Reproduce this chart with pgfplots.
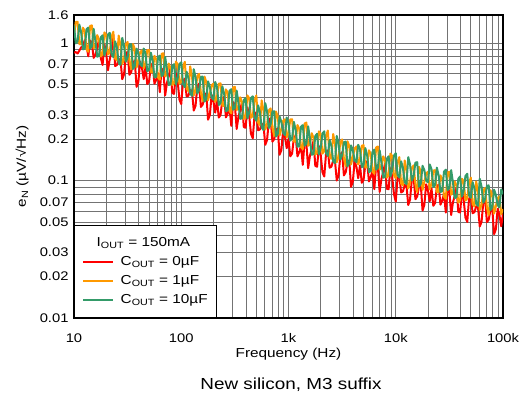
\documentclass[border=0pt]{standalone}
\usepackage{fontspec}
\setmainfont{Liberation Sans}[FakeStretch=1.18]
\usepackage{pgfplots}
\usepackage{pgfplotstable}
\pgfplotsset{compat=1.18}

\definecolor{tired}{RGB}{255,0,0}
\definecolor{tiorange}{RGB}{255,153,0}
\definecolor{tigreen}{RGB}{52,155,105}

\newcommand\ticksize{\fontsize{12.5bp}{15bp}\selectfont}
\newcommand\labelsize{\fontsize{13bp}{15bp}\selectfont}
\newcommand\capsize{\fontsize{16bp}{19bp}\selectfont}

% f = frequency (Hz), r/o/g = e_N for C_OUT = 0, 1, 10 uF
\pgfplotstableread{
f r o g
10 0.850 1.140 1.344
10.39 0.860 1.422 0.995
10.80 0.840 1.427 1.030
11.22 0.880 0.982 1.363
11.66 0.930 0.980 1.197
12.12 0.950 1.294 0.900
12.59 1.050 1.221 0.910
13.08 0.964 0.898 1.259
13.59 0.800 0.864 1.296
14.13 1.044 1.331 0.916
14.68 0.998 1.344 0.945
15.25 0.780 0.915 1.269
15.85 0.824 0.948 1.030
16.47 0.918 1.142 0.796
17.11 1.061 1.061 0.808
17.78 0.780 0.800 1.100
18.48 0.693 0.832 1.139
19.20 0.980 1.196 0.813
19.95 0.854 1.145 0.902
20.73 0.634 0.826 1.152
21.54 0.760 0.855 1.188
22.39 0.865 1.109 0.827
23.26 1.150 1.209 0.791
24.17 0.681 0.773 1.030
25.12 0.692 0.746 0.928
26.10 0.765 1.134 0.720
27.12 0.757 0.961 0.694
28.18 0.546 0.704 1.091
29.29 0.592 0.766 0.957
30.43 0.826 0.980 0.731
31.62 0.867 1.020 0.782
32.86 0.588 0.739 0.974
34.15 0.614 0.647 0.979
35.48 0.722 0.984 0.648
36.87 0.745 0.907 0.680
38.31 0.480 0.664 0.912
39.81 0.521 0.751 0.837
41.37 0.733 0.858 0.702
42.99 0.662 0.886 0.678
44.67 0.547 0.654 0.912
46.42 0.675 0.713 0.840
48.23 0.503 0.888 0.622
50.12 0.526 0.891 0.642
52.08 0.685 0.613 0.851
54.12 0.712 0.612 0.748
56.23 0.506 0.808 0.562
58.43 0.541 0.763 0.569
60.72 0.603 0.562 0.788
63.10 0.439 0.541 0.811
65.57 0.654 0.834 0.574
68.13 0.626 0.844 0.593
70.80 0.416 0.572 0.793
73.56 0.514 0.591 0.642
76.44 0.571 0.710 0.495
79.43 0.657 0.657 0.501
82.54 0.433 0.494 0.680
85.77 0.427 0.512 0.702
89.13 0.602 0.734 0.500
92.61 0.524 0.702 0.553
96.24 0.387 0.505 0.704
100 0.360 0.522 0.725
103.9 0.525 0.674 0.502
108.0 0.551 0.731 0.478
112.2 0.409 0.465 0.619
116.6 0.414 0.447 0.556
121.2 0.456 0.677 0.430
125.9 0.450 0.571 0.413
130.8 0.323 0.417 0.646
135.9 0.349 0.451 0.564
141.3 0.485 0.576 0.429
146.8 0.508 0.598 0.458
152.5 0.343 0.431 0.568
158.5 0.357 0.377 0.570
164.7 0.418 0.570 0.375
171.1 0.431 0.524 0.393
177.8 0.277 0.383 0.526
184.8 0.300 0.431 0.481
192.0 0.420 0.492 0.402
199.5 0.378 0.506 0.387
207.3 0.312 0.373 0.521
215.4 0.385 0.407 0.479
223.9 0.287 0.506 0.354
232.6 0.300 0.509 0.367
241.7 0.390 0.349 0.485
251.2 0.406 0.349 0.426
261.0 0.288 0.460 0.320
271.2 0.308 0.435 0.324
281.8 0.343 0.320 0.449
292.9 0.250 0.308 0.462
304.3 0.372 0.475 0.327
316.2 0.356 0.480 0.338
328.6 0.237 0.326 0.451
341.5 0.292 0.336 0.365
354.8 0.324 0.403 0.281
368.7 0.373 0.373 0.284
383.1 0.245 0.280 0.385
398.1 0.242 0.291 0.398
413.7 0.341 0.416 0.283
429.9 0.297 0.398 0.313
446.7 0.219 0.286 0.398
464.2 0.203 0.295 0.410
482.3 0.298 0.382 0.285
501.2 0.314 0.416 0.272
520.8 0.232 0.264 0.352
541.2 0.235 0.253 0.315
562.3 0.258 0.383 0.243
584.3 0.254 0.323 0.233
607.2 0.182 0.235 0.365
631.0 0.197 0.254 0.318
655.7 0.273 0.324 0.241
681.3 0.285 0.335 0.257
708.0 0.192 0.241 0.318
735.6 0.200 0.211 0.319
764.4 0.233 0.318 0.209
794.3 0.240 0.292 0.219
825.4 0.154 0.212 0.292
857.7 0.166 0.239 0.267
891.3 0.232 0.272 0.222
926.1 0.209 0.279 0.214
962.4 0.172 0.206 0.287
1000 0.201 0.223 0.263
1039 0.150 0.278 0.195
1080 0.157 0.279 0.202
1122 0.204 0.192 0.267
1166 0.212 0.192 0.234
1212 0.150 0.253 0.176
1259 0.161 0.239 0.178
1308 0.179 0.175 0.246
1359 0.130 0.169 0.253
1413 0.194 0.260 0.179
1468 0.186 0.264 0.185
1525 0.123 0.179 0.248
1585 0.152 0.184 0.200
1647 0.168 0.221 0.154
1711 0.195 0.205 0.156
1778 0.128 0.154 0.211
1848 0.126 0.160 0.219
1920 0.178 0.228 0.155
1995 0.155 0.218 0.172
2073 0.115 0.157 0.220
2154 0.107 0.164 0.228
2239 0.157 0.212 0.158
2326 0.166 0.231 0.151
2417 0.124 0.148 0.197
2512 0.126 0.144 0.179
2610 0.140 0.218 0.138
2712 0.139 0.186 0.134
2818 0.100 0.136 0.211
2929 0.109 0.149 0.186
3043 0.152 0.190 0.142
3162 0.161 0.199 0.153
3286 0.109 0.144 0.190
3415 0.115 0.127 0.192
3548 0.135 0.193 0.127
3687 0.140 0.179 0.134
3831 0.090 0.131 0.180
3981 0.0984 0.149 0.166
4137 0.138 0.171 0.140
4299 0.126 0.177 0.136
4467 0.104 0.131 0.182
4642 0.129 0.143 0.169
4823 0.0963 0.179 0.125
5012 0.101 0.181 0.130
5208 0.132 0.124 0.172
5412 0.138 0.125 0.152
5623 0.0985 0.166 0.115
5843 0.106 0.157 0.117
6072 0.118 0.116 0.162
6310 0.0865 0.112 0.168
6557 0.129 0.174 0.120
6813 0.125 0.177 0.124
7080 0.0827 0.120 0.166
7356 0.103 0.124 0.135
7644 0.115 0.150 0.105
7943 0.133 0.140 0.106
8254 0.0871 0.105 0.144
8577 0.0865 0.109 0.150
8913 0.123 0.157 0.107
9261 0.107 0.151 0.119
9624 0.0796 0.109 0.152
10000 0.0703 0.104 0.158
10390 0.1035 0.136 0.110
10800 0.109 0.148 0.105
11220 0.0819 0.0951 0.138
11660 0.0834 0.092 0.124
12120 0.0926 0.140 0.0968
12590 0.0918 0.119 0.094
13080 0.0664 0.0876 0.148
13590 0.0728 0.0963 0.131
14130 0.102 0.124 0.100
14680 0.107 0.129 0.108
15250 0.0731 0.0939 0.135
15850 0.0766 0.0825 0.136
16470 0.0903 0.126 0.0901
17110 0.0936 0.116 0.095
17780 0.0605 0.0855 0.128
18480 0.0665 0.0979 0.119
19200 0.0939 0.112 0.0999
19950 0.0851 0.116 0.097
20730 0.0706 0.0862 0.131
21540 0.0875 0.0944 0.121
22390 0.0655 0.118 0.0899
23260 0.0687 0.119 0.093
24170 0.0898 0.0821 0.124
25120 0.0936 0.0823 0.109
26100 0.0667 0.109 0.0824
27120 0.0716 0.103 0.084
28180 0.080 0.0762 0.116
29290 0.0585 0.0736 0.120
30430 0.0874 0.114 0.0852
31620 0.084 0.116 0.0885
32860 0.0561 0.0789 0.119
34150 0.0695 0.0817 0.0965
35480 0.0774 0.0985 0.0746
36870 0.0895 0.0915 0.0758
38310 0.0591 0.069 0.103
39810 0.0586 0.0719 0.107
41370 0.0829 0.103 0.0764
42990 0.0723 0.0991 0.0849
44670 0.0537 0.0715 0.108
46420 0.050 0.0742 0.112
48230 0.0735 0.0964 0.0781
50120 0.0776 0.105 0.0748
52080 0.0579 0.0672 0.0974
54120 0.0588 0.0648 0.0876
56230 0.0649 0.0984 0.0679
58430 0.0642 0.0834 0.0654
60720 0.0463 0.061 0.103
63100 0.0501 0.0663 0.0901
65570 0.070 0.085 0.0689
68130 0.0734 0.0883 0.0736
70800 0.0498 0.064 0.0916
73560 0.052 0.056 0.0922
76440 0.0611 0.0851 0.0609
79430 0.0631 0.0785 0.064
82540 0.0407 0.0575 0.0858
85770 0.0442 0.065 0.0789
89130 0.0622 0.0744 0.0662
92610 0.0563 0.0769 0.064
96240 0.0465 0.0568 0.0862
100000 0.0575 0.062 0.0795
}\noise

\begin{document}
\begin{tikzpicture}
\begin{axis}[
    at={(0,0)}, anchor=south west,
    scale only axis, width=429bp, height=303bp,
    xmode=log, ymode=log,
    xmin=10, xmax=100000, ymin=0.01, ymax=1.6,
    xtick={10,100,1000,10000,100000},
    xticklabels={10,100,1k,10k,100k},
    minor xtick={20,30,40,50,60,70,80,90,200,300,400,500,600,700,800,900,
        2000,3000,4000,5000,6000,7000,8000,9000,
        20000,30000,40000,50000,60000,70000,80000,90000},
    ytick={0.01,0.02,0.03,0.05,0.07,0.1,0.2,0.3,0.5,0.7,1,1.6},
    yticklabels={0.01,0.02,0.03,0.05,0.07,0.1,0.2,0.3,0.5,0.7,1,1.6},
    minor ytick={0.04,0.06,0.08,0.09,0.4,0.6,0.8,0.9},
    grid=both,
    major grid style={black!55, line width=0.6bp},
    minor grid style={black!55, line width=0.6bp},
    major tick length=0pt, minor tick length=0pt,
    axis line style={line width=1.4bp},
    tick label style={font=\ticksize},
    xticklabel style={yshift=-12bp},
    yticklabel style={xshift=-2bp},
    xlabel={Frequency (Hz)},
    ylabel={e\textsubscript{N} (µV/√Hz)},
    every axis x label/.style={at={(axis description cs:0.5,-0.119)}, anchor=center, font=\labelsize},
    every axis y label/.style={at={(axis description cs:-0.121,0.5)}, rotate=90, anchor=center, font=\labelsize},
    legend style={at={(0,0)}, anchor=south west, draw=black, line width=1.4bp,
        fill=white, inner xsep=7.5bp, inner ysep=8bp, font=\labelsize,
        row sep=0pt, column sep=5bp,
        nodes={inner sep=1.5bp, minimum height=19bp}},
    legend cell align=left,
    legend image code/.code={\draw[#1, line width=2bp] (0bp,0bp) -- (30bp,0bp);},
]
\addlegendimage{empty legend}
\addlegendentry{\hspace*{-24bp}I\textsubscript{OUT} = 150mA}

\addplot[tired, line width=2bp, line join=round] table[x=f, y=r] {\noise};
\addlegendentry{C\textsubscript{OUT} = 0µF}

\addplot[tiorange, line width=2bp, line join=round] table[x=f, y=o] {\noise};
\addlegendentry{C\textsubscript{OUT} = 1µF}

\addplot[tigreen, line width=2bp, line join=round] table[x=f, y=g] {\noise};
\addlegendentry{C\textsubscript{OUT} = 10µF}
\end{axis}
\node[font=\capsize] at (217bp,-67bp) {New silicon, M3 suffix};
\pgfresetboundingbox
\path[use as bounding box] (-74bp,-84bp) rectangle (447bp,318bp);
\end{tikzpicture}
\end{document}
